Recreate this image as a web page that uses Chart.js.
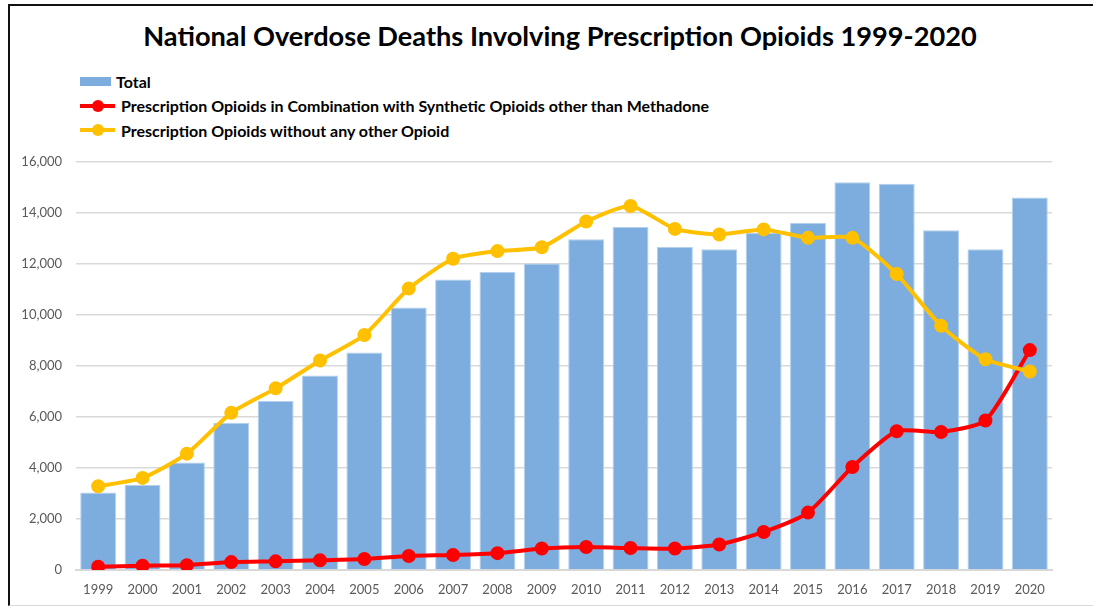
<!DOCTYPE html>
<html>
<head>
<meta charset="utf-8">
<script src="https://cdn.jsdelivr.net/npm/chart.js@4/dist/chart.umd.min.js"></script>
<style>
    html, body { margin: 0; padding: 0; background: #fff; }
    body { width: 1093px; height: 608px; position: relative; overflow: hidden; font-family: Lato, 'Open Sans', sans-serif; }
    .frame { position: absolute; left: 8px; top: 4px; width: 1200px; height: 599px; border-top: 2px solid #111; border-left: 2px solid #111; border-bottom: 1px solid #d9d9d9; }
    .title { position: absolute; left: 0; width: 1120px; top: 19px; text-align: center; font-weight: 700; font-size: 27.2px; color: #000; }
    .legend { position: absolute; left: 80px; top: 69px; }
    .legend-item { height: 24.5px; display: flex; align-items: center; font-weight: 700; font-size: 16px; color: #000; }
    .swatch-bar { width: 31px; height: 9px; margin-right: 5px; }
    .swatch-line { position: relative; width: 35px; height: 4px; margin-right: 6px; }
    .swatch-line span { position: absolute; left: 12px; top: -4px; width: 12px; height: 12px; border-radius: 50%; }
    .chart-box { position: absolute; left: 0; top: 140px; width: 1093px; height: 468px; }
</style>
</head>
<body>
<div class="frame"></div>
<div class="title">National Overdose Deaths Involving Prescription Opioids 1999-2020</div>
<div class="legend" id="legend"></div>
<div class="chart-box"><canvas id="chart"></canvas></div>
<script>
// Data
const years = ['1999', '2000', '2001', '2002', '2003', '2004', '2005', '2006', '2007', '2008', '2009',
               '2010', '2011', '2012', '2013', '2014', '2015', '2016', '2017', '2018', '2019', '2020'];
const totalDeaths = [3040, 3340, 4210, 5770, 6620, 7620, 8530, 10290, 11390, 11690, 12010,
                     12960, 13440, 12660, 12570, 13220, 13600, 15200, 15140, 13320, 12570, 14600];
const withSynthetic = [130, 170, 190, 310, 340, 380, 430, 550, 590, 660, 840,
                       900, 860, 840, 1000, 1490, 2250, 4040, 5440, 5410, 5860, 8620];
const withoutOther = [3280, 3610, 4560, 6160, 7120, 8210, 9210, 11030, 12200, 12500, 12650,
                      13660, 14270, 13370, 13150, 13350, 13020, 13020, 11600, 9570, 8260, 7780];
const yTicks = { min: 0, max: 16000, step: 2000 };

const labelTotal = 'Total';
const labelSynthetic = 'Prescription Opioids in Combination with Synthetic Opioids other than Methadone';
const labelWithout = 'Prescription Opioids without any other Opioid';

const blue = '#7dadde';
const red = '#ff0000';
const gold = '#ffc000';
const tickColor = '#595959';
const gridColor = '#d9d9d9';

const datasets = [
    {
        type: 'line',
        label: labelSynthetic,
        data: withSynthetic,
        borderColor: red,
        backgroundColor: red,
        borderWidth: 4,
        pointRadius: 5,
        pointHoverRadius: 5,
        tension: 0.2,
        order: 2
    },
    {
        type: 'line',
        label: labelWithout,
        data: withoutOther,
        borderColor: gold,
        backgroundColor: gold,
        borderWidth: 4,
        pointRadius: 5,
        pointHoverRadius: 5,
        tension: 0.2,
        order: 1
    },
    {
        type: 'bar',
        label: labelTotal,
        data: totalDeaths,
        backgroundColor: blue,
        borderColor: '#b4d0ec',
        borderWidth: 1,
        barPercentage: 0.81,
        categoryPercentage: 1.0,
        order: 3
    }
];

// HTML legend, one entry per row like the original
const legendEl = document.getElementById('legend');
[datasets[2], datasets[0], datasets[1]].forEach(ds => {
    const item = document.createElement('div');
    item.className = 'legend-item';
    if (ds.type === 'bar') {
        item.innerHTML = `<div class="swatch-bar" style="background:${ds.backgroundColor}"></div>${ds.label}`;
    } else {
        item.innerHTML = `<div class="swatch-line" style="background:${ds.borderColor}"><span style="background:${ds.borderColor}"></span></div>${ds.label}`;
    }
    legendEl.appendChild(item);
});

new Chart(document.getElementById('chart'), {
    data: { labels: years, datasets: datasets },
    options: {
        responsive: true,
        maintainAspectRatio: false,
        animation: false,
        layout: { padding: { top: 19, right: 41, left: 0, bottom: 0 } },
        plugins: {
            legend: { display: false },
            tooltip: { enabled: false }
        },
        scales: {
            x: {
                grid: { display: false, drawTicks: false },
                border: { display: true, color: gridColor, width: 2 },
                ticks: { color: tickColor, font: { family: 'Lato', size: 13 }, padding: 12, maxRotation: 0 },
                afterFit: s => { s.height = 38; }
            },
            y: {
                min: yTicks.min,
                max: yTicks.max,
                grid: { color: gridColor, lineWidth: 1.5, drawTicks: false },
                border: { display: false },
                ticks: {
                    stepSize: yTicks.step,
                    color: tickColor,
                    font: { family: 'Lato', size: 13 },
                    padding: 14,
                    callback: v => v.toLocaleString('en-US')
                },
                afterFit: s => { s.width = 76; }
            }
        }
    }
});
</script>
</body>
</html>
